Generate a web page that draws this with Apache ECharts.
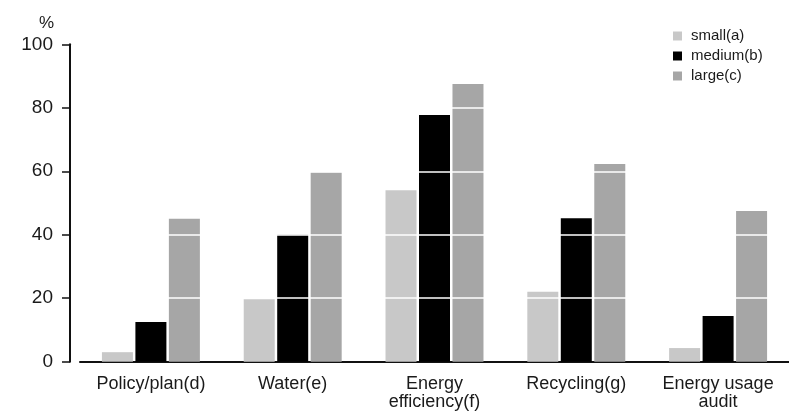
<!DOCTYPE html>
<html>
<head>
<meta charset="utf-8">
<script src="https://cdn.jsdelivr.net/npm/echarts@6/dist/echarts.min.js"></script>
<style>
html,body{margin:0;padding:0;background:#fff;}
#chart{width:789px;height:416px;}
</style>
</head>
<body>
<div id="chart"></div>
<script>
var categories = ['Policy/plan(d)', 'Water(e)', 'Energy\nefficiency(f)', 'Recycling(g)', 'Energy usage\naudit'];
var seriesNames = ['small(a)', 'medium(b)', 'large(c)'];
var smallValues = [3, 19.7, 54, 22, 4.3];
var mediumValues = [12.5, 40, 77.7, 45.2, 14.4];
var largeValues = [45, 59.7, 87.5, 62.3, 47.5];
var gridValues = [20, 40, 60, 80, 100];

var font = 'Liberation Sans, Arial, sans-serif';
var textColor = '#1a1a1a';

var chart = echarts.init(document.getElementById('chart'), null, {renderer: 'canvas'});
chart.setOption({
  animation: false,
  backgroundColor: '#fff',
  title: {
    text: '%',
    left: 34, top: 10,
    textStyle: {fontFamily: font, fontSize: 17, fontWeight: 'normal', color: textColor}
  },
  legend: {
    orient: 'vertical',
    left: 668, top: 23,
    icon: 'rect',
    itemWidth: 9, itemHeight: 9,
    itemGap: 4,
    data: seriesNames,
    textStyle: {fontFamily: font, fontSize: 15, color: textColor, lineHeight: 16, padding: [0, 0, 0, 4]}
  },
  grid: {left: 80, right: -10, top: 44.3, bottom: 54.3, containLabel: false},
  xAxis: {
    type: 'category',
    data: categories,
    axisLine: {lineStyle: {color: '#111', width: 2}},
    axisTick: {alignWithLabel: true, length: 6, lineStyle: {color: '#111', width: 1.5}},
    axisLabel: {fontFamily: font, fontSize: 18, color: textColor, margin: 13, lineHeight: 18, interval: 0},
    splitLine: {show: false}
  },
  yAxis: {
    type: 'value',
    min: 0, max: 100, interval: 20,
    offset: 10,
    axisLine: {show: true, lineStyle: {color: '#111', width: 2}},
    axisTick: {show: true, length: 8, lineStyle: {color: '#111', width: 1.5}},
    axisLabel: {fontFamily: font, fontSize: 19, color: textColor, margin: 17},
    splitLine: {show: false}
  },
  series: [
    {name: seriesNames[0], type: 'bar', data: smallValues, barWidth: 31, barGap: '8%', itemStyle: {color: '#c8c8c8'}, z: 2},
    {name: seriesNames[1], type: 'bar', data: mediumValues, barWidth: 31, barGap: '8%', itemStyle: {color: '#000000'}, z: 2},
    {name: seriesNames[2], type: 'bar', data: largeValues, barWidth: 31, barGap: '8%', itemStyle: {color: '#a6a6a6'}, z: 2,
      markLine: {
        silent: true, symbol: 'none', z: 10,
        label: {show: false},
        lineStyle: {color: '#ffffff', width: 1.5, type: 'solid'},
        emphasis: {disabled: true},
        data: gridValues.map(function (v) { return {yAxis: v}; })
      }
    }
  ]
});
</script>
</body>
</html>
